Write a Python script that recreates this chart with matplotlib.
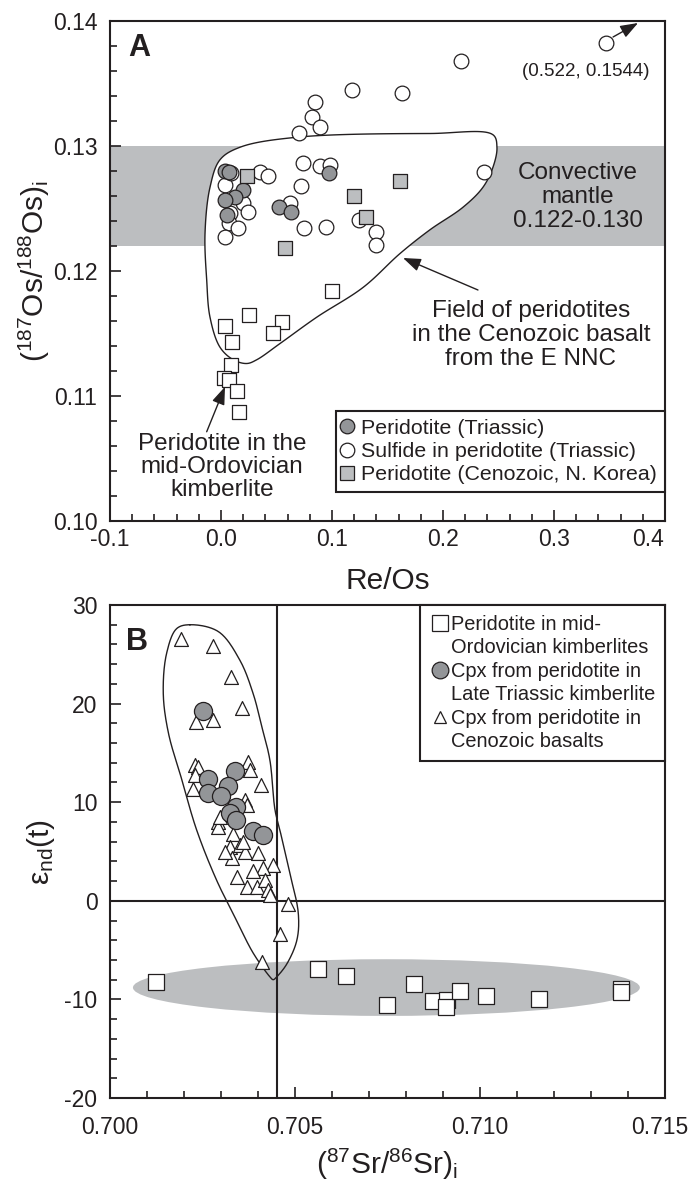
"""
Os and Sr-Nd isotope panels (A: 187Os/188Os vs Re/Os, B: eNd vs 87Sr/86Sr).
Writes out.png.
"""
import matplotlib
matplotlib.use("Agg")
import matplotlib.pyplot as plt
import matplotlib.transforms as mtransforms
import numpy as np
from matplotlib.lines import Line2D
from matplotlib.patches import Ellipse
from matplotlib.ticker import MultipleLocator, FormatStrFormatter

plt.rcParams["font.family"] = ["Liberation Sans", "DejaVu Sans"]
plt.rcParams["mathtext.fontset"] = "custom"
plt.rcParams["mathtext.rm"] = "Liberation Sans"
plt.rcParams["mathtext.it"] = "Liberation Sans:italic"
plt.rcParams["mathtext.bf"] = "Liberation Sans:bold"

INK = "#231f20"
GREY_DARK = "#939598"
GREY_LIGHT = "#bcbec0"

# ─── data: panel A (Re/Os vs initial 187Os/188Os) ───────────────────────────

# peridotite, Triassic (grey circles)
A_TRI_X = [0.004, 0.007, 0.020, 0.013, 0.004, 0.005, 0.052, 0.063, 0.097]
A_TRI_Y = [0.1280, 0.1279, 0.1265, 0.1259, 0.1257, 0.1245, 0.1251, 0.1247, 0.1278]

# sulfide in peridotite, Triassic (open circles)
A_SULF_X = [0.118, 0.163, 0.085, 0.082, 0.089, 0.070, 0.074, 0.089, 0.098, 0.072,
            0.035, 0.042, 0.004, 0.020, 0.024, 0.008, 0.007, 0.015, 0.004, 0.062,
            0.075, 0.095, 0.124, 0.140, 0.140, 0.009, 0.347, 0.216, 0.237]
A_SULF_Y = [0.1345, 0.1342, 0.1335, 0.1323, 0.1315, 0.1310, 0.1286, 0.1284, 0.1285, 0.1268,
            0.1279, 0.1276, 0.1269, 0.1254, 0.1247, 0.1246, 0.1238, 0.1234, 0.1227, 0.1254,
            0.1234, 0.1235, 0.1241, 0.1231, 0.1221, 0.1278, 0.1382, 0.1368, 0.1279]

# peridotite, Cenozoic N. Korea (grey squares)
A_KOR_X = [0.023, 0.161, 0.120, 0.131, 0.058]
A_KOR_Y = [0.1276, 0.1272, 0.1260, 0.1243, 0.1218]

# peridotite in mid-Ordovician kimberlite (open squares)
A_ORD_X = [0.100, 0.025, 0.055, 0.047, 0.004, 0.010, 0.009, 0.003, 0.007, 0.014, 0.016]
A_ORD_Y = [0.1184, 0.1165, 0.1159, 0.1150, 0.1156, 0.1143, 0.1125, 0.1114, 0.1113, 0.1104, 0.1087]

# field of Cenozoic basalt peridotites (outline vertices)
A_FIELD_X = [-0.0009, 0.0171, 0.0682, 0.1883, 0.2450, 0.2486, 0.2450, 0.2360, 0.2180, 0.1883,
             0.1613, 0.1282, 0.0862, 0.0532, 0.0322, 0.0232, 0.0111, -0.0009, -0.0099, -0.0129,
             -0.0144, -0.0099]
A_FIELD_Y = [0.1289, 0.1299, 0.1307, 0.1310, 0.1309, 0.1299, 0.1283, 0.1267, 0.1251, 0.1233,
             0.1214, 0.1187, 0.1163, 0.1142, 0.1129, 0.1126, 0.1129, 0.1139, 0.1163, 0.1193,
             0.1230, 0.1267]

CONVECTIVE = (0.122, 0.130)

# ─── data: panel B (Sr-Nd) ──────────────────────────────────────────────────

# peridotite in mid-Ordovician kimberlites (open squares)
B_ORD_X = [0.70123, 0.70563, 0.70637, 0.70748, 0.70822, 0.70872, 0.70910, 0.70908, 0.70946,
           0.71015, 0.71159, 0.71380, 0.71380]
B_ORD_Y = [-8.2, -6.9, -7.6, -10.6, -8.4, -10.2, -10.1, -10.8, -9.1, -9.7, -10.0, -8.9, -9.2]

# cpx, Late Triassic kimberlite (grey circles)
B_TRI_X = [0.70252, 0.70338, 0.70264, 0.70318, 0.70266, 0.70299, 0.70340, 0.70324, 0.70341,
           0.70387, 0.70414]
B_TRI_Y = [19.3, 13.2, 12.4, 11.6, 10.9, 10.6, 9.5, 8.9, 8.2, 7.1, 6.7]

# cpx, Cenozoic basalts (open triangles)
B_CEN_X = [0.70191, 0.70279, 0.70326, 0.70356, 0.70232, 0.70279, 0.70230, 0.70239, 0.70230,
           0.70374, 0.70378, 0.70225, 0.70408, 0.70365, 0.70369, 0.70293, 0.70293, 0.70333,
           0.70324, 0.70351, 0.70365, 0.70329, 0.70401, 0.70440, 0.70414, 0.70386, 0.70342,
           0.70369, 0.70398, 0.70419, 0.70428, 0.70432, 0.70482, 0.70459, 0.70410, 0.70297,
           0.70311, 0.70360]
B_CEN_Y = [26.6, 25.8, 22.7, 19.6, 18.1, 18.3, 13.8, 13.6, 12.8,
           14.1, 13.3, 11.3, 11.7, 10.2, 9.7, 8.0, 7.5, 6.8,
           5.5, 5.7, 5.0, 4.3, 4.8, 3.6, 3.3, 3.0, 2.4,
           1.4, 1.4, 2.1, 1.1, 0.6, -0.3, -3.4, -6.2, 8.5,
           5.0, 6.0]

# Cenozoic cpx field (outline vertices)
B_FIELD_X = [0.70216, 0.70293, 0.70351, 0.70387, 0.70410, 0.70432, 0.70446, 0.70459, 0.70486,
             0.70509, 0.70505, 0.70478, 0.70451, 0.70441, 0.70432, 0.70387, 0.70342, 0.70288,
             0.70234, 0.70194, 0.70158, 0.70144, 0.70153, 0.70180]
B_FIELD_Y = [28.0, 27.3, 24.4, 21.0, 17.7, 14.3, 9.2, 7.2, 2.8,
             -1.3, -4.0, -6.4, -7.7, -8.0, -7.7, -5.3, -2.0, 2.1,
             7.2, 12.3, 17.0, 21.0, 25.1, 27.6]

# Ordovician field ellipse: centre, width, height
B_ELLIPSE = (0.70747, -8.8, 0.0137, 5.75)

BSE_SR = 0.7045
CHUR_ND = 0.0


# ─── helpers ────────────────────────────────────────────────────────────────

def smooth_outline(ax, xs, ys, n=20, alpha=0.5):
    """Closed centripetal Catmull-Rom curve through the vertices (in display space)."""
    P = ax.transData.transform(np.column_stack([xs, ys]))
    N = len(P)
    out = []
    for i in range(N):
        p0, p1, p2, p3 = P[(i - 1) % N], P[i], P[(i + 1) % N], P[(i + 2) % N]
        t0 = 0.0
        t1 = t0 + np.linalg.norm(p1 - p0) ** alpha
        t2 = t1 + np.linalg.norm(p2 - p1) ** alpha
        t3 = t2 + np.linalg.norm(p3 - p2) ** alpha
        t = np.linspace(t1, t2, n, endpoint=False)[:, None]
        a1 = (t1 - t) / (t1 - t0) * p0 + (t - t0) / (t1 - t0) * p1
        a2 = (t2 - t) / (t2 - t1) * p1 + (t - t1) / (t2 - t1) * p2
        a3 = (t3 - t) / (t3 - t2) * p2 + (t - t2) / (t3 - t2) * p3
        b1 = (t2 - t) / (t2 - t0) * a1 + (t - t0) / (t2 - t0) * a2
        b2 = (t3 - t) / (t3 - t1) * a2 + (t - t1) / (t3 - t1) * a3
        out.append((t2 - t) / (t2 - t1) * b1 + (t - t1) / (t2 - t1) * b2)
    out = np.vstack(out)
    out = np.vstack([out, out[:1]])
    d = ax.transData.inverted().transform(out)
    return d[:, 0], d[:, 1]


def style_axes(ax, xpad, ypad):
    for sp in ax.spines.values():
        sp.set_linewidth(1.5)
        sp.set_color(INK)
    ax.tick_params(which="both", direction="in", top=False, right=False,
                   color=INK, width=1.2, labelsize=16.5, labelcolor=INK)
    ax.tick_params(which="major", length=8)
    ax.tick_params(which="minor", length=5)
    ax.tick_params(axis="x", pad=xpad)
    ax.tick_params(axis="y", pad=ypad)


def nudge_xticklabel(ax, text, dx_px):
    # shift one x tick label sideways (the last one sits at the figure edge)
    ax.figure.canvas.draw()
    for lbl in ax.get_xticklabels():
        if lbl.get_text() == text:
            lbl.set_transform(lbl.get_transform() + mtransforms.Affine2D().translate(dx_px, 0))


def arrow(ax, tail, head):
    ax.annotate("", xy=head, xytext=tail,
                arrowprops=dict(arrowstyle="-|>,head_length=0.6,head_width=0.22",
                                mutation_scale=18, color=INK, lw=1.0,
                                shrinkA=0, shrinkB=0), zorder=6)


# ─── panel A ────────────────────────────────────────────────────────────────

def panel_a(ax):
    ax.set_xlim(-0.1, 0.4)
    ax.set_ylim(0.10, 0.14)
    ax.xaxis.set_major_locator(MultipleLocator(0.1))
    ax.xaxis.set_minor_locator(MultipleLocator(0.02))
    ax.yaxis.set_major_locator(MultipleLocator(0.01))
    ax.yaxis.set_minor_locator(MultipleLocator(0.002))
    ax.xaxis.set_major_formatter(FormatStrFormatter("%.1f"))
    ax.yaxis.set_major_formatter(FormatStrFormatter("%.2f"))
    style_axes(ax, xpad=5, ypad=9)

    ax.axhspan(*CONVECTIVE, color=GREY_LIGHT, lw=0, zorder=0)
    fx, fy = smooth_outline(ax, A_FIELD_X, A_FIELD_Y)
    ax.fill(fx, fy, facecolor="white", edgecolor=INK, lw=1.0, zorder=1)

    ax.scatter(A_ORD_X, A_ORD_Y, s=92, marker="s", facecolor="white",
               edgecolor=INK, lw=0.9, zorder=3)
    ax.scatter(A_SULF_X, A_SULF_Y, s=112, marker="o", facecolor="white",
               edgecolor=INK, lw=0.9, zorder=3)
    ax.scatter(A_TRI_X, A_TRI_Y, s=112, marker="o", facecolor=GREY_DARK,
               edgecolor=INK, lw=0.9, zorder=4)
    ax.scatter(A_KOR_X, A_KOR_Y, s=100, marker="s", facecolor=GREY_LIGHT,
               edgecolor=INK, lw=0.9, zorder=4)

    ax.text(0.3288, 0.13592, "(0.522, 0.1544)", fontsize=13.5, ha="center",
            va="center", color=INK)
    arrow(ax, (0.3532, 0.13872), (0.3757, 0.13984))

    ax.text(0.3216, 0.12592, "Convective\nmantle\n0.122-0.130", fontsize=17.5,
            ha="center", va="center", linespacing=1.1, color=INK)
    ax.text(0.2791, 0.11488, "Field of peridotites\nin the Cenozoic basalt\nfrom the E NNC",
            fontsize=17.5, ha="center", va="center", linespacing=1.1, color=INK)
    arrow(ax, (0.2315, 0.11848), (0.1640, 0.12104))
    ax.text(0.0009, 0.10432, "Peridotite in the\nmid-Ordovician\nkimberlite",
            fontsize=17.5, ha="center", va="center", linespacing=1.05, color=INK)
    arrow(ax, (-0.0129, 0.10714), (0.0036, 0.11074))

    ax.text(0.072, 0.976, "A", transform=ax.transAxes, fontsize=22,
            fontweight="bold", ha="right", va="top", color=INK)

    handles = [
        Line2D([], [], ls="none", marker="o", ms=10.5, mfc=GREY_DARK, mec=INK, mew=0.9),
        Line2D([], [], ls="none", marker="o", ms=10.5, mfc="white", mec=INK, mew=0.9),
        Line2D([], [], ls="none", marker="s", ms=10, mfc=GREY_LIGHT, mec=INK, mew=0.9),
    ]
    labels = ["Peridotite (Triassic)", "Sulfide in peridotite (Triassic)",
              "Peridotite (Cenozoic, N. Korea)"]
    leg = ax.legend(handles, labels, loc="lower right", bbox_to_anchor=(1.0, 0.058),
                    borderaxespad=0, fontsize=15.4, handlelength=0.28,
                    handletextpad=0.51, borderpad=0.37, labelspacing=0.19,
                    fancybox=False, edgecolor=INK, framealpha=1)
    leg.get_frame().set_linewidth(1.5)
    for t in leg.get_texts():
        t.set_color(INK)

    ax.set_xlabel("Re/Os", fontsize=21.5, color=INK)
    ax.set_ylabel("($^{187}$Os/$^{188}$Os)$_{\\rm i}$", fontsize=21.5, color=INK)
    ax.xaxis.set_label_coords(0.5, -0.092)
    ax.yaxis.set_label_coords(-0.105, 0.5)


# ─── panel B ────────────────────────────────────────────────────────────────

def panel_b(ax):
    ax.set_xlim(0.700, 0.715)
    ax.set_ylim(-20, 30)
    ax.xaxis.set_major_locator(MultipleLocator(0.005))
    ax.xaxis.set_minor_locator(MultipleLocator(0.001))
    ax.yaxis.set_major_locator(MultipleLocator(10))
    ax.yaxis.set_minor_locator(MultipleLocator(2))
    ax.xaxis.set_major_formatter(FormatStrFormatter("%.3f"))
    ax.yaxis.set_major_formatter(FormatStrFormatter("%d"))
    style_axes(ax, xpad=13, ypad=9)

    cx, cy, w, h = B_ELLIPSE
    ax.add_patch(Ellipse((cx, cy), w, h, facecolor=GREY_LIGHT, edgecolor="none", zorder=0))
    ax.axhline(CHUR_ND, color=INK, lw=1.5, zorder=1)
    ax.axvline(BSE_SR, color=INK, lw=1.5, zorder=1)
    fx, fy = smooth_outline(ax, B_FIELD_X, B_FIELD_Y)
    ax.plot(fx, fy, color=INK, lw=1.0, zorder=2)

    ax.scatter(B_ORD_X, B_ORD_Y, s=117, marker="s", facecolor="white",
               edgecolor=INK, lw=0.9, zorder=3)
    ax.scatter(B_CEN_X, B_CEN_Y, s=100, marker="^", facecolor="white",
               edgecolor=INK, lw=0.9, zorder=3)
    ax.scatter(B_TRI_X, B_TRI_Y, s=170, marker="o", facecolor=GREY_DARK,
               edgecolor=INK, lw=0.9, zorder=4)

    ax.text(0.068, 0.955, "B", transform=ax.transAxes, fontsize=22,
            fontweight="bold", ha="right", va="top", color=INK)

    blank = Line2D([], [], ls="none", marker=None)
    handles = [
        Line2D([], [], ls="none", marker="s", ms=11.5, mfc="white", mec=INK, mew=0.9), blank,
        Line2D([], [], ls="none", marker="o", ms=12, mfc=GREY_DARK, mec=INK, mew=0.9), blank,
        Line2D([], [], ls="none", marker="^", ms=8, mfc="white", mec=INK, mew=0.9), blank,
    ]
    labels = ["Peridotite in mid-", "Ordovician kimberlites",
              "Cpx from peridotite in", "Late Triassic kimberlite",
              "Cpx from peridotite in", "Cenozoic basalts"]
    leg = ax.legend(handles, labels, loc="upper right", bbox_to_anchor=(1.0, 1.0),
                    borderaxespad=0, fontsize=14.4, handlelength=0.95,
                    handletextpad=0.08, borderpad=0.5, labelspacing=0.22,
                    fancybox=False, edgecolor=INK, framealpha=1)
    leg.get_frame().set_linewidth(1.5)
    for t in leg.get_texts():
        t.set_color(INK)

    ax.set_xlabel("($^{87}$Sr/$^{86}$Sr)$_{\\rm i}$", fontsize=21.5, color=INK)
    ax.set_ylabel("ε$_{\\rm nd}$(t)", fontsize=21.5, color=INK)
    ax.xaxis.set_label_coords(0.5, -0.099)
    ax.yaxis.set_label_coords(-0.095, 0.5)


# ─── main ───────────────────────────────────────────────────────────────────

def main():
    fig = plt.figure(figsize=(6.9, 11.81), dpi=100)
    ax_a = fig.add_axes([0.15942, 0.55885, 0.80435, 0.42337])
    ax_b = fig.add_axes([0.15942, 0.07028, 0.80435, 0.41744])
    panel_a(ax_a)
    panel_b(ax_b)
    nudge_xticklabel(ax_a, "0.4", -17)
    nudge_xticklabel(ax_b, "0.715", -5)
    fig.savefig("out.png", dpi=100)
    plt.close(fig)


if __name__ == "__main__":
    main()
